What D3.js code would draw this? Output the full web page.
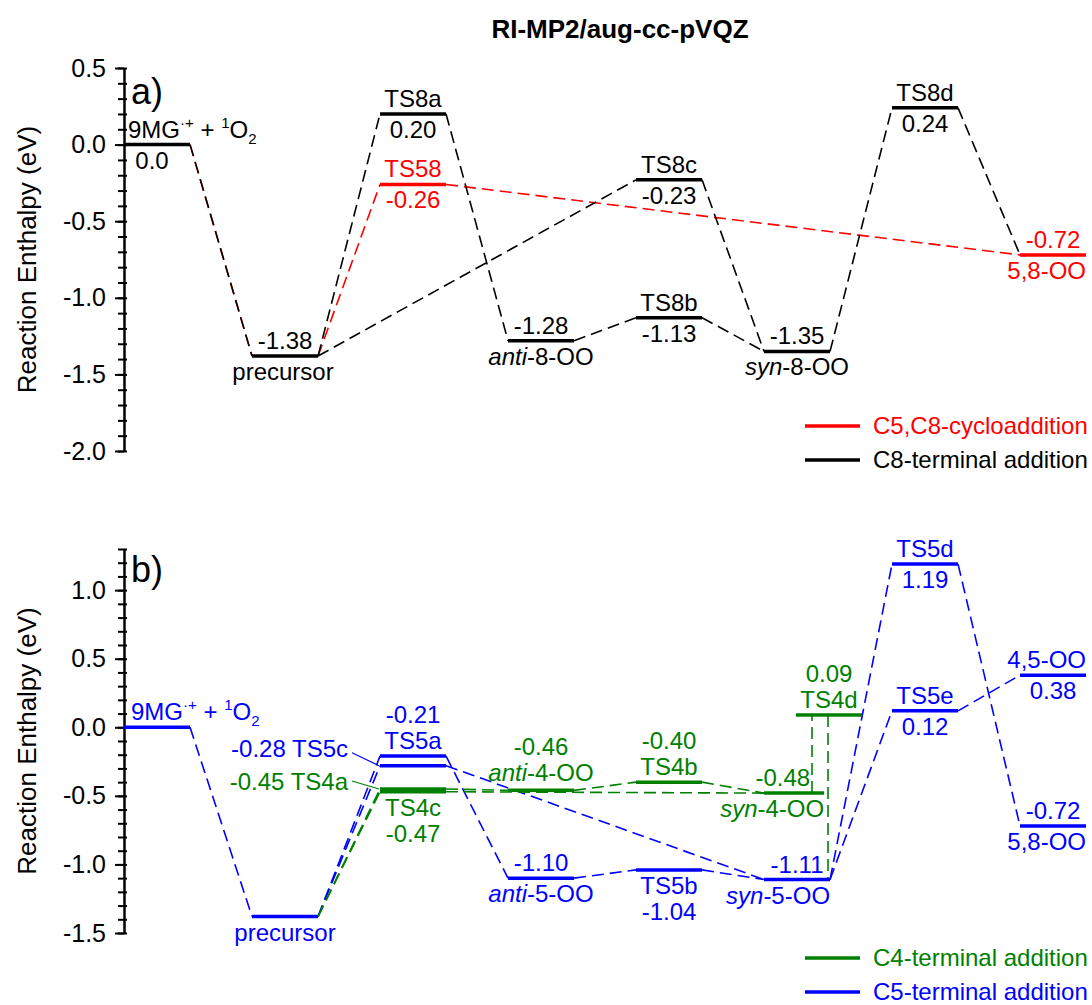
<!DOCTYPE html>
<html>
<head>
<meta charset="utf-8" />
<style>
  body { margin: 0; background: #fff; }
  svg text { font-family: Arial, "Liberation Sans", sans-serif; }
</style>
</head>
<body>
<svg id="chart" width="1092" height="1005"></svg>
<script src="https://d3js.org/d3.v7.min.js"></script>
<script>
// ---- panel a) : C8-terminal addition + C5,C8-cycloaddition ----
var aStates = ["R", "precursor", "TS8a", "TS58", "anti-8-OO", "TS8c", "TS8b", "syn-8-OO", "TS8d", "5,8-OO"];
var aStage  = [0, 1, 2, 2, 3, 4, 4, 5, 6, 7];
var aEnergy = [0.0, -1.38, 0.20, -0.26, -1.28, -0.23, -1.13, -1.35, 0.24, -0.72];
var aPath   = ["C8", "C8", "C8", "C58", "C8", "C8", "C8", "C8", "C8", "C58"];
var aLinks  = [
  ["R", "precursor", "C58"], ["R", "precursor", "C8"],
  ["precursor", "TS58", "C58"], ["TS58", "5,8-OO", "C58"],
  ["precursor", "TS8a", "C8"], ["TS8a", "anti-8-OO", "C8"], ["anti-8-OO", "TS8b", "C8"], ["TS8b", "syn-8-OO", "C8"],
  ["precursor", "TS8c", "C8"], ["TS8c", "syn-8-OO", "C8"], ["syn-8-OO", "TS8d", "C8"], ["TS8d", "5,8-OO", "C8"]
];
var aTicks  = ["-2.0", "-1.5", "-1.0", "-0.5", "0.0", "0.5"];
var aLegendNames = ["C5,C8-cycloaddition", "C8-terminal addition"];
var aLegendKeys  = ["C58", "C8"];

// ---- panel b) : C4- and C5-terminal addition ----
var bStates = ["R", "precursor", "TS5a", "TS5c", "TS4a", "TS4c", "anti-4-OO", "anti-5-OO", "TS4b", "TS5b",
               "syn-4-OO", "syn-5-OO", "TS4d", "TS5d", "TS5e", "4,5-OO", "5,8-OO"];
var bStage  = [0, 1, 2, 2, 2, 2, 3, 3, 4, 4, 5, 5, 5.25, 6, 6, 7, 7];
var bEnergy = [0.0, -1.38, -0.21, -0.28, -0.45, -0.47, -0.46, -1.10, -0.40, -1.04,
               -0.48, -1.11, 0.09, 1.19, 0.12, 0.38, -0.72];
var bPath   = ["C5", "C5", "C5", "C5", "C4", "C4", "C4", "C5", "C4", "C5", "C4", "C5", "C4", "C5", "C5", "C5", "C5"];
var bLinks  = [
  ["R", "precursor", "C5"], ["precursor", "TS5a", "C5"], ["precursor", "TS5c", "C5"],
  ["TS5a", "anti-5-OO", "C5"], ["TS5c", "syn-5-OO", "C5"], ["anti-5-OO", "TS5b", "C5"], ["TS5b", "syn-5-OO", "C5"],
  ["syn-5-OO", "TS5d", "C5"], ["syn-5-OO", "TS5e", "C5"], ["TS5d", "5,8-OO", "C5"], ["TS5e", "4,5-OO", "C5"],
  ["precursor", "TS4a", "C4"], ["precursor", "TS4c", "C4"], ["TS4a", "anti-4-OO", "C4"], ["TS4c", "syn-4-OO", "C4"],
  ["anti-4-OO", "TS4b", "C4"], ["TS4b", "syn-4-OO", "C4"]
];
// vertical connections through TS4d: [from, to, stage where the line is drawn]
var bVLinks = [["syn-4-OO", "TS4d", 5.375], ["TS4d", "syn-5-OO", 5.5]];
var bTicks  = ["-1.5", "-1.0", "-0.5", "0.0", "0.5", "1.0"];
var bLegendNames = ["C4-terminal addition", "C5-terminal addition"];
var bLegendKeys  = ["C4", "C5"];

// ---- styling / label layout ----
var colors = { C58: "#ff0000", C8: "#000000", C4: "#008000", C5: "#0000ff" };
var span = 0.516;                       // level width in stage units
var spanOverride = { "syn-4-OO": 0.47 };

// "@E" = energy value, "@R" = reactant formula, "@N" = the state name
var aText = {
  "R":         { up: ["@R"], upAnchor: "start", upDx: 4, down: ["@E"], downDx: -5 },
  "precursor": { up: ["@E"], down: ["@N"], downDx: -2 },
  "TS8a":      { up: ["@N"], down: ["@E"] },
  "TS58":      { up: ["@N"], down: ["@E"] },
  "anti-8-OO": { up: ["@E"], down: ["@N"] },
  "TS8c":      { up: ["@N"], down: ["@E"] },
  "TS8b":      { up: ["@N"], down: ["@E"] },
  "syn-8-OO":  { up: ["@E"], down: ["@N"] },
  "TS8d":      { up: ["@N"], down: ["@E"] },
  "5,8-OO":    { up: ["@E"], down: ["@N"], downAnchor: "end" }
};
var bText = {
  "R":         { up: ["@R"], upAnchor: "start", upDx: 7 },
  "precursor": { down: ["@N"] },
  "TS5a":      { up: ["@E", "@N"] },
  "TS5c":      { left: "@E @N", leftDy: -9, leadDy: -13 },
  "TS4a":      { left: "@E @N", leftDy: 1, leadDy: -8 },
  "TS4c":      { down: ["@N", "@E"] },
  "anti-4-OO": { up: ["@E", "@N"], upDy: -2 },
  "anti-5-OO": { up: ["@E"], down: ["@N"] },
  "TS4b":      { up: ["@E", "@N"] },
  "TS5b":      { down: ["@N", "@E"] },
  "syn-4-OO":  { up: ["@E"], upAnchor: "end", upDx: -14, down: ["@N"], downAnchor: "end" },
  "syn-5-OO":  { up: ["@E"], down: ["@N"], downAnchor: "end" },
  "TS4d":      { up: ["@E", "@N"] },
  "TS5d":      { up: ["@N"], down: ["@E"] },
  "TS5e":      { up: ["@N"], down: ["@E"] },
  "4,5-OO":    { up: ["@N"], upAnchor: "end", down: ["@E"] },
  "5,8-OO":    { up: ["@E"], down: ["@N"], downAnchor: "end" }
};

var panels = [
  { states: aStates, stage: aStage, energy: aEnergy, path: aPath, links: aLinks, vlinks: [],
    ticks: aTicks, domain: [-2.0, 0.5], range: [451, 68], text: aText, tag: "a)", tagY: 104,
    legendNames: aLegendNames, legendKeys: aLegendKeys, legendY: 426 },
  { states: bStates, stage: bStage, energy: bEnergy, path: bPath, links: bLinks, vlinks: bVLinks,
    ticks: bTicks, domain: [-1.5, 1.3], range: [933, 549], text: bText, tag: "b)", tagY: 582,
    legendNames: bLegendNames, legendKeys: bLegendKeys, legendY: 958 }
];

var svg = d3.select("#chart");
var x = d3.scaleLinear().domain([0, 8]).range([124, 1148]);
var axisX = x(0);
var fs = 24, lineGap = 26;

svg.append("text")
  .attr("x", 620).attr("y", 38)
  .attr("text-anchor", "middle")
  .attr("font-size", 26).attr("font-weight", "bold")
  .text("RI-MP2/aug-cc-pVQZ");

function energyText(v) { return v === 0 ? "0.0" : v.toFixed(2); }

function writeToken(t, token, name, value) {
  token.split(" ").forEach(function(p, k) {
    var pre = k > 0 ? " " : "";
    if (p === "@E") { t.append("tspan").text(pre + energyText(value)); }
    else if (p === "@R") {
      t.append("tspan").text("9MG");
      t.append("tspan").attr("font-size", 15).attr("dy", -10).text("\u00b7+");
      t.append("tspan").attr("dy", 10).text(" + ");
      t.append("tspan").attr("font-size", 15).attr("dy", -10).text("1");
      t.append("tspan").attr("dy", 10).text("O");
      t.append("tspan").attr("font-size", 15).attr("dy", 6).text("2");
    }
    else if (p === "@N") {
      var m = name.match(/^(anti|syn)(-.*)$/);
      if (m) {
        t.append("tspan").attr("font-style", "italic").text(pre + m[1]);
        t.append("tspan").text(m[2]);
      } else {
        t.append("tspan").text(pre + name);
      }
    }
    else { t.append("tspan").text(pre + p); }
  });
}

panels.forEach(function(P) {
  var y = d3.scaleLinear().domain(P.domain).range(P.range);
  var g = svg.append("g");
  var idx = {};
  P.states.forEach(function(s, i) { idx[s] = i; });
  function x0(i) { return x(P.stage[i]); }
  function x1(i) { return x(P.stage[i] + (spanOverride[P.states[i]] || span)); }
  function yl(i) { return y(P.energy[i]); }

  // axis (major + minor ticks)
  var minor = d3.range(Math.round(P.domain[0] * 10), Math.round(P.domain[1] * 10) + 1)
    .map(function(d) { return d / 10; });
  var minorAxis = g.append("g").attr("transform", "translate(" + axisX + ",0)")
    .call(d3.axisLeft(y).tickValues(minor).tickSize(6).tickSizeOuter(0).tickFormat(""));
  minorAxis.selectAll(".tick line").attr("x1", 3).attr("stroke-width", 2);
  minorAxis.select(".domain").attr("stroke-width", 2.5);

  var majorAxis = g.append("g").attr("transform", "translate(" + axisX + ",0)")
    .call(d3.axisLeft(y).tickValues(P.ticks.map(Number)).tickSize(9).tickSizeOuter(0).tickPadding(9)
      .tickFormat(function(d, i) { return P.ticks[i]; }));
  majorAxis.select(".domain").remove();
  majorAxis.selectAll(".tick line").attr("stroke-width", 2);
  majorAxis.selectAll(".tick text").attr("font-size", 25)
    .attr("font-family", "Arial, 'Liberation Sans', sans-serif");

  var mid = (P.range[0] + P.range[1]) / 2;
  g.append("text")
    .attr("transform", "translate(27," + mid + ") rotate(-90)")
    .attr("text-anchor", "middle").attr("dy", "0.35em")
    .attr("font-size", 26)
    .text("Reaction Enthalpy (eV)");

  g.append("text").attr("x", 131).attr("y", P.tagY).attr("font-size", 36).text(P.tag);

  // dashed connectors
  g.selectAll(".link").data(P.links).enter().append("line")
    .attr("x1", function(d) { return x1(idx[d[0]]); })
    .attr("y1", function(d) { return yl(idx[d[0]]); })
    .attr("x2", function(d) { return x0(idx[d[1]]); })
    .attr("y2", function(d) { return yl(idx[d[1]]); })
    .attr("stroke", function(d) { return colors[d[2]]; })
    .attr("stroke-width", 1.6)
    .attr("stroke-dasharray", "12,6");

  g.selectAll(".vlink").data(P.vlinks).enter().append("line")
    .attr("x1", function(d) { return x(d[2]); })
    .attr("x2", function(d) { return x(d[2]); })
    .attr("y1", function(d) { return yl(idx[d[0]]); })
    .attr("y2", function(d) { return yl(idx[d[1]]); })
    .attr("stroke", function(d) { return colors[P.path[idx[d[0]]]]; })
    .attr("stroke-width", 1.6)
    .attr("stroke-dasharray", "12,6");

  // energy levels
  g.selectAll(".level").data(P.states).enter().append("line")
    .attr("x1", function(d, i) { return x0(i); })
    .attr("x2", function(d, i) { return x1(i); })
    .attr("y1", function(d, i) { return yl(i); })
    .attr("y2", function(d, i) { return yl(i); })
    .attr("stroke", function(d, i) { return colors[P.path[i]]; })
    .attr("stroke-width", 3.5);

  // labels
  P.states.forEach(function(s, i) {
    var L = P.text[s];
    if (!L) return;
    var col = colors[P.path[i]];
    function anchorX(a, dx) {
      var base = a === "start" ? x0(i) : a === "end" ? x1(i) : (x0(i) + x1(i)) / 2;
      return base + (dx || 0);
    }
    if (L.up) {
      var n = L.up.length;
      L.up.forEach(function(tok, k) {
        var t = g.append("text")
          .attr("x", anchorX(L.upAnchor, L.upDx))
          .attr("y", yl(i) - 7 + (L.upDy || 0) - (n - 1 - k) * lineGap)
          .attr("text-anchor", L.upAnchor || "middle")
          .attr("font-size", fs).attr("fill", col);
        writeToken(t, tok, s, P.energy[i]);
      });
    }
    if (L.down) {
      L.down.forEach(function(tok, k) {
        var t = g.append("text")
          .attr("x", anchorX(L.downAnchor, L.downDx))
          .attr("y", yl(i) + 24 + k * lineGap)
          .attr("text-anchor", L.downAnchor || "middle")
          .attr("font-size", fs).attr("fill", col);
        writeToken(t, tok, s, P.energy[i]);
      });
    }
    if (L.left) {
      var t = g.append("text")
        .attr("x", x0(i) - 32)
        .attr("y", yl(i) + L.leftDy)
        .attr("text-anchor", "end")
        .attr("font-size", fs).attr("fill", col);
      writeToken(t, L.left, s, P.energy[i]);
      g.append("line")
        .attr("x1", x0(i) - 28).attr("y1", yl(i) + L.leadDy)
        .attr("x2", x0(i) - 1).attr("y2", yl(i))
        .attr("stroke", col).attr("stroke-width", 1.2);
    }
  });

  // legend
  P.legendNames.forEach(function(name, k) {
    var ly = P.legendY + k * 34;
    var c = colors[P.legendKeys[k]];
    g.append("line").attr("x1", 805).attr("x2", 860).attr("y1", ly).attr("y2", ly)
      .attr("stroke", c).attr("stroke-width", 3.5);
    g.append("text").attr("x", 873).attr("y", ly).attr("dy", "0.35em")
      .attr("font-size", fs).attr("fill", c).text(name);
  });
});
</script>
</body>
</html>
